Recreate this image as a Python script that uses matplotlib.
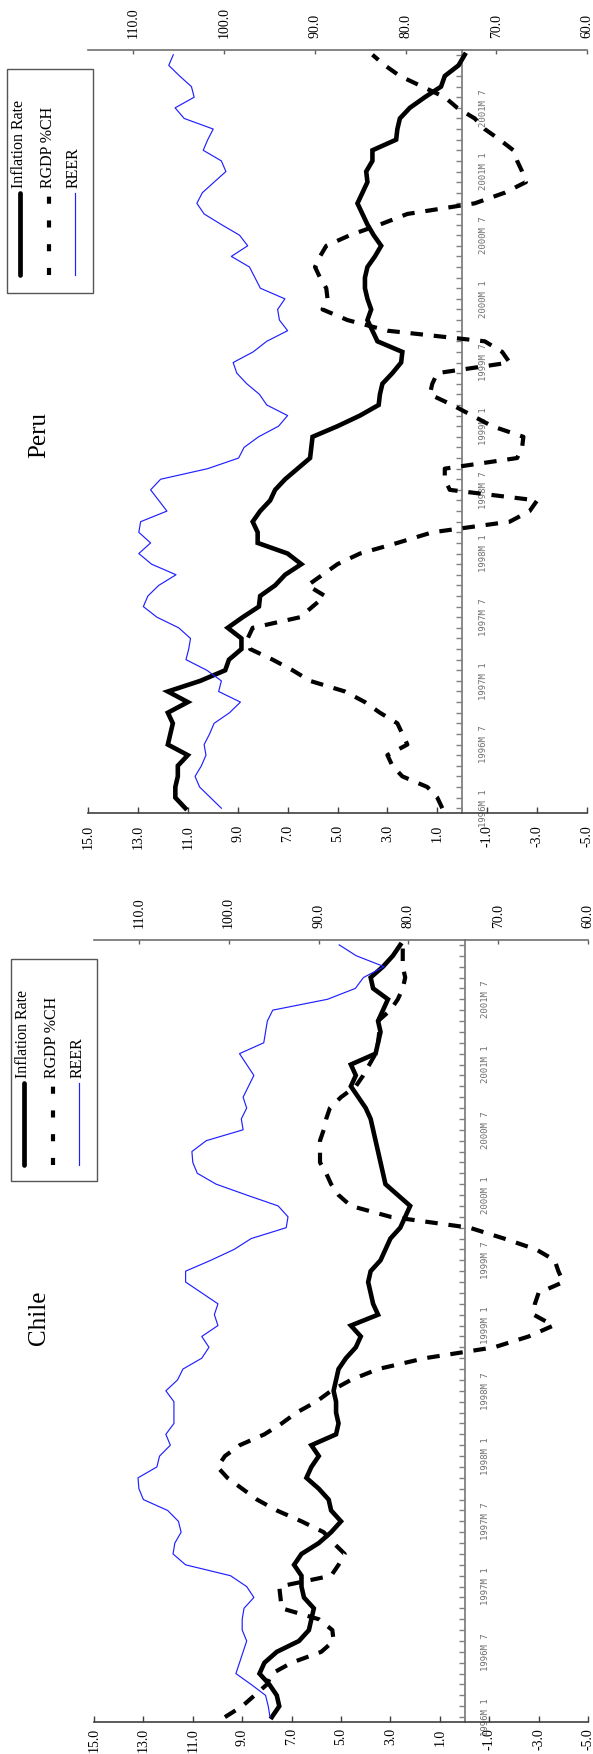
import matplotlib
matplotlib.use("Agg")
import matplotlib.pyplot as plt
from matplotlib.lines import Line2D
from matplotlib.patches import Rectangle

# ---------------------------------------------------------------------------
# Data: monthly observations 1996M1 .. 2001M12
# ---------------------------------------------------------------------------
month_index = list(range(72))
month_tick_pos = [0, 6, 12, 18, 24, 30, 36, 42, 48, 54, 60, 66]
month_tick_labels = ["1996M 1", "1996M 7", "1997M 1", "1997M 7", "1998M 1", "1998M 7",
                     "1999M 1", "1999M 7", "2000M 1", "2000M 7", "2001M 1", "2001M 7"]

pct_ticks = [15, 13, 11, 9, 7, 5, 3, 1, -1, -3, -5]
reer_ticks = [110, 100, 90, 80, 70, 60]
series_names = ["Inflation Rate", "RGDP %CH", "REER"]

chile_inflation = [7.8, 7.5, 7.6, 7.9, 8.3, 8.1, 7.6, 6.7, 6.3, 6.2, 6.1, 6.5,
                   6.6, 6.6, 6.9, 6.6, 5.9, 5.4, 5.0, 5.4, 5.5, 5.9, 6.4, 6.2,
                   5.9, 6.2, 5.2, 5.1, 5.2, 5.2, 5.3, 5.2, 5.1, 4.8, 4.4, 4.2,
                   4.6, 3.5, 3.7, 3.8, 3.9, 3.8, 3.4, 3.2, 3.0, 2.6, 2.4, 2.2,
                   2.7, 3.2, 3.3, 3.4, 3.5, 3.6, 3.7, 3.8, 4.0, 4.3, 4.6, 4.4,
                   4.6, 3.6, 3.5, 3.4, 3.5, 3.3, 3.1, 3.7, 3.8, 3.3, 2.9, 2.6]

chile_rgdp = [9.7, 9.0, 8.5, 8.0, 7.8, 7.0, 5.8, 5.3, 5.35, 5.9, 7.4, 7.45,
              7.5, 5.4, 5.1, 4.85, 5.3, 5.7, 6.6, 7.6, 8.4, 9.0, 9.6, 10.0,
              9.7, 9.1, 8.1, 7.4, 6.8, 6.0, 5.4, 4.6, 3.5, 1.6, -1.2, -2.6,
              -3.6, -2.8, -2.85, -3.0, -4.0, -3.8, -3.65, -2.9, -1.6, -0.2, 3.0, 4.6,
              5.1, 5.4, 5.6, 5.85, 5.85, 5.85, 5.7, 5.6, 5.45, 5.0, 4.4, 4.1,
              3.85, 3.6, 3.5, 3.45, 3.5, 3.0, 2.7, 2.5, 2.4, 2.5, 2.5, 2.5]

chile_reer = [95.4, 95.6, 95.9, 97.5, 99.2, 98.8, 98.4, 98.0, 98.5, 98.5, 98.3, 97.2,
              98.0, 99.8, 104.8, 106.2, 106.0, 105.3, 105.6, 106.8, 109.5, 110.0, 110.1, 108.0,
              107.7, 106.5, 107.0, 106.1, 106.1, 106.1, 107.0, 105.7, 105.1, 103.0, 102.2, 103.0,
              101.2, 101.6, 101.2, 103.0, 104.8, 104.8, 102.0, 99.4, 97.5, 93.6, 93.4, 94.5,
              98.0, 101.4, 103.5, 104.0, 104.1, 102.5, 98.4, 98.6, 98.0, 98.4, 97.8, 97.2,
              98.0, 98.8, 96.1, 95.9, 95.7, 95.1, 89.0, 85.9, 85.0, 82.7, 85.8, 87.7]

peru_inflation = [11.1, 11.5, 11.5, 11.4, 11.4, 11.0, 11.8, 11.7, 11.6, 11.8, 11.0, 11.8,
                  10.5, 9.5, 9.35, 8.85, 8.85, 9.4, 8.8, 8.15, 8.1, 7.5, 7.1, 6.45,
                  7.0, 8.2, 8.2, 8.4, 8.1, 7.7, 7.5, 7.1, 6.6, 6.1, 6.05, 6.0,
                  5.0, 4.1, 3.35, 3.3, 3.2, 2.8, 2.45, 2.4, 3.4, 3.6, 3.8, 3.65,
                  3.8, 3.9, 3.9, 3.8, 3.5, 3.25, 3.55, 3.8, 4.0, 4.2, 4.0, 3.8,
                  3.85, 3.6, 3.6, 2.65, 2.6, 2.5, 2.1, 1.5, 0.85, 0.7, 0.15, -0.1]

peru_rgdp = [0.8, 1.0, 1.4, 2.4, 2.8, 3.0, 2.2, 2.4, 2.6, 3.3, 3.9, 4.7,
             6.1, 6.8, 7.6, 8.5, 8.6, 8.4, 6.5, 6.0, 5.5, 6.2, 5.6, 5.0,
             4.1, 2.6, 1.2, -1.9, -2.7, -3.0, 0.5, 0.7, 0.7, -2.2, -2.4, -2.45,
             -1.2, -0.4, 0.4, 1.3, 1.2, 1.0, -1.9, -1.6, -0.9, 3.0, 4.6, 5.6,
             5.4, 5.45, 5.7, 5.9, 5.7, 5.45, 4.5, 3.3, 2.2, -0.5, -1.7, -2.55,
             -2.4, -2.2, -2.05, -1.5, -0.9, -0.5, 0.2, 0.7, 1.6, 2.5, 3.1, 3.6]

peru_reer = [100.3, 101.5, 102.7, 103.2, 102.5, 102.0, 102.2, 101.6, 101.1, 99.4, 98.2, 100.6,
             100.3, 101.9, 104.2, 103.9, 103.7, 105.0, 107.4, 108.9, 108.4, 107.2, 105.3, 108.0,
             109.4, 108.1, 109.4, 109.2, 106.3, 107.2, 108.1, 107.0, 101.8, 98.4, 97.8, 96.2,
             94.0, 93.0, 95.3, 96.1, 97.5, 98.6, 99.0, 96.8, 95.3, 93.0, 93.9, 94.1,
             93.3, 96.0, 96.6, 97.2, 99.2, 97.4, 98.3, 100.3, 102.2, 103.0, 102.4, 101.1,
             99.8, 100.3, 102.3, 101.8, 101.2, 104.4, 105.4, 103.3, 103.6, 104.9, 106.1, 105.6]

# ---------------------------------------------------------------------------
# Layout (figure pixels) and styles
# ---------------------------------------------------------------------------
W, H, DPI = 593, 1754, 100
SERIF = "Liberation Serif"
MONO = "DejaVu Sans Mono"

INFL_STYLE = dict(color="black", lw=3.3, solid_joinstyle="miter", zorder=3)
RGDP_STYLE = dict(color="black", lw=3.0, linestyle=(0, (3.0, 2.6)),
                  dash_capstyle="butt", zorder=4)
REER_STYLE = dict(color="#2020ff", lw=0.85, zorder=5)

fig = plt.figure(figsize=(W / DPI, H / DPI), dpi=DPI)
fig.patch.set_facecolor("white")


def fx(px):
    return px / W


def fy(py):
    return 1 - py / H


def draw_legend(x0, y0, x1, y1):
    fig.add_artist(Rectangle((fx(x0), fy(y1)), fx(x1) - fx(x0), fy(y0) - fy(y1),
                             transform=fig.transFigure, fill=False,
                             edgecolor="#555555", lw=1.0))
    line_top, line_bot, text_bot = y0 + 124, y0 + 206, y0 + 119
    entries = [
        (x0 + 13, dict(color="black", lw=3.4, solid_capstyle="round")),
        (x0 + 42, dict(color="black", lw=3.0, linestyle=(0, (1.7, 4.0)),
                       dash_capstyle="butt")),
        (x0 + 68, dict(color="#2020ff", lw=0.85)),
    ]
    for (lx, style), name in zip(entries, series_names):
        fig.add_artist(Line2D([fx(lx), fx(lx)], [fy(line_bot), fy(line_top)],
                              transform=fig.transFigure, **style))
        fig.text(fx(lx - 1), fy(text_bot), name, rotation=90, ha="center",
                 va="bottom", fontsize=11.5, family=SERIF, color="black")


def draw_panel(box, bottom_pad, title, title_xy, legend_box, infl, rgdp, reer):
    left, top, right, bottom = box
    ax = fig.add_axes([fx(left), fy(bottom), fx(right) - fx(left), fy(top) - fy(bottom)])
    ax.set_facecolor("none")
    ax.set_xlim(15, -5)
    ax.set_ylim(-0.45, 71.45)

    # percentage axis along the bottom
    ax.set_xticks(pct_ticks)
    ax.set_xticklabels([f"{v:.1f}" for v in pct_ticks], rotation=90,
                       family=SERIF, fontsize=10)
    ax.tick_params(axis="x", direction="in", length=4, width=1.0,
                   color="#404040", pad=bottom_pad)

    # time axis running through zero
    ax.spines["left"].set_visible(False)
    ax.spines["top"].set_visible(False)
    ax.spines["bottom"].set_color("#404040")
    ax.spines["bottom"].set_linewidth(1.2)
    ax.spines["right"].set_position(("data", 0))
    ax.spines["right"].set_color("#808080")
    ax.spines["right"].set_linewidth(1.3)
    ax.yaxis.tick_right()
    ax.set_yticks(month_tick_pos)
    ax.set_yticks(month_index, minor=True)
    ax.set_yticklabels(month_tick_labels, rotation=90, va="center",
                       family=MONO, fontsize=6.5, color="#707070")
    ax.tick_params(axis="y", which="both", direction="in", length=4,
                   width=1.0, color="#808080", pad=12)

    ax.plot(infl, month_index, **INFL_STYLE)
    ax.plot(rgdp, month_index, **RGDP_STYLE)

    # REER on its own scale along the top
    ax2 = ax.twiny()
    ax2.set_xlim(115, 60)
    ax2.set_xticks(reer_ticks)
    ax2.set_xticklabels([f"{v:.1f}" for v in reer_ticks], rotation=90,
                        family=SERIF, fontsize=10)
    ax2.tick_params(axis="x", direction="in", length=3, width=1.0,
                    color="#606060", pad=8.5)
    for side in ("bottom", "left", "right"):
        ax2.spines[side].set_visible(False)
    ax2.spines["top"].set_color("#707070")
    ax2.spines["top"].set_linewidth(1.2)
    ax2.plot(reer, month_index, **REER_STYLE)

    fig.text(fx(title_xy[0]), fy(title_xy[1]), title, rotation=90,
             ha="center", va="center", fontsize=18, family=SERIF)
    draw_legend(*legend_box)


draw_panel((88, 50, 587, 813), 8.5, "Peru", (39, 435), (7, 69, 93, 293),
           peru_inflation, peru_rgdp, peru_reer)
draw_panel((94, 940, 588, 1722), 4.5, "Chile", (39, 1318), (11, 959, 97, 1181),
           chile_inflation, chile_rgdp, chile_reer)

fig.savefig("out.png", dpi=DPI, facecolor="white")
